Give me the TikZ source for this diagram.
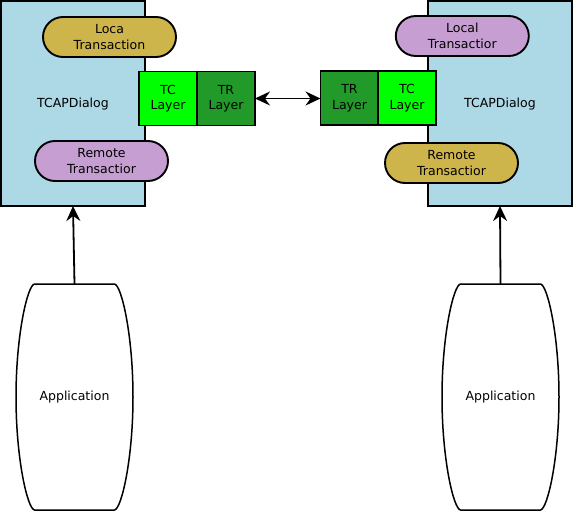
\documentclass[tikz,border=0pt]{standalone}
\usepackage{fontspec}
\setmainfont{DejaVu Sans}
\usetikzlibrary{arrows.meta}

\definecolor{dialogblue}{RGB}{173,216,230}
\definecolor{goldfill}{RGB}{206,181,75}
\definecolor{lilac}{RGB}{198,158,210}
\definecolor{tcgreen}{RGB}{0,255,0}
\definecolor{trgreen}{RGB}{34,154,42}

\tikzset{
  base/.style={draw=black, line width=1.9pt, font=\fontsize{12.5}{15.5}\selectfont, align=center, inner sep=0pt, outer sep=0pt},
  dialog/.style={base, fill=dialogblue, minimum width=144pt, minimum height=205pt},
  pill/.style={base, rounded corners=20pt, minimum width=133pt, minimum height=40pt},
  layer/.style={base, minimum width=58pt, minimum height=54pt},
  appbox/.style={inner sep=0pt, outer sep=0pt, minimum width=117pt, minimum height=226pt, font=\fontsize{12.5}{15.5}\selectfont},
  appline/.style={line width=1.5pt},
  tip/.tip={Stealth[length=15pt, width=14pt, inset=5pt]},
  link/.style={line width=1.8pt, -tip},
  duplex/.style={line width=1.8pt, tip-tip}
}

\begin{document}
\begin{tikzpicture}[x=1pt, y=-1pt]
  \useasboundingbox (0,0) rectangle (573,511);

  % dialog containers
  \node[dialog] (dlgL) at (73,103.5) {};
  \node[dialog] (dlgR) at (500,103.5) {};
  \node[font=\fontsize{12.5}{15.5}\selectfont] (dlgLlabel) at (73,104) {TCAPDialog};
  \node[font=\fontsize{12.5}{15.5}\selectfont] (dlgRlabel) at (500,104) {TCAPDialog};

  % transactions
  \node[pill, fill=goldfill] (locL) at (109.5,37) {Loca\\Transaction};
  \node[pill, fill=lilac] (remL) at (101.5,161) {Remote\\Transactior};
  \node[pill, fill=lilac] (locR) at (462.3,36) {Local\\Transactior};
  \node[pill, fill=goldfill] (remR) at (451.5,163) {Remote\\Transactior};

  % protocol layers
  \node[layer, fill=tcgreen] (tcL) at (168,98.5) {TC\\Layer};
  \node[layer, fill=trgreen] (trL) at (226,98.5) {TR\\Layer};
  \node[layer, fill=trgreen] (trR) at (349.5,98) {TR\\Layer};
  \node[layer, fill=tcgreen] (tcR) at (407,98) {TC\\Layer};

  \draw[duplex] (trL.east) -- (trL.east -| trR.west);

  % applications
  \node[appbox] (appL) at (74.5,397) {Application};
  \node[appbox] (appR) at (500.5,397) {Application};
  \foreach \a in {appL,appR}{
    \draw[appline, shift={(\a.center)}]
      (-40,-113) -- (40,-113)
      .. controls (47,-112) and (58.5,-62) .. (58.5,0)
      .. controls (58.5,62) and (47,112) .. (40,113)
      -- (-40,113)
      .. controls (-47,112) and (-58.5,62) .. (-58.5,0)
      .. controls (-58.5,-62) and (-47,-112) .. (-40,-113) -- cycle;
  }

  \draw[link] (appL.north) -- (dlgL.south);
  \draw[link] (appR.north) -- (dlgR.south);
\end{tikzpicture}
\end{document}
